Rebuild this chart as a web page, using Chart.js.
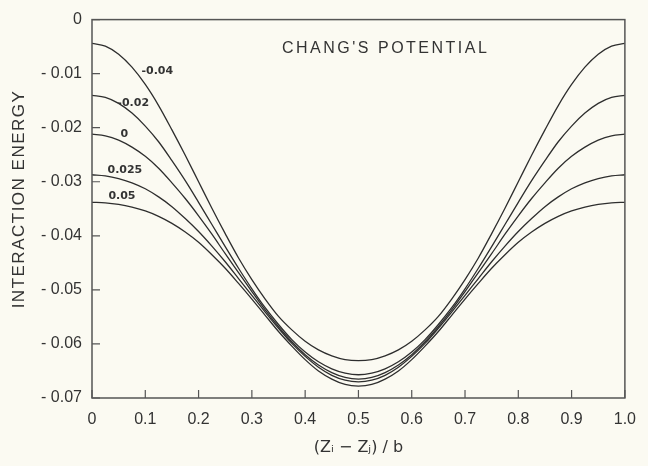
<!DOCTYPE html>
<html>
<head>
<meta charset="utf-8">
<script src="https://cdn.jsdelivr.net/npm/chart.js@4/dist/chart.umd.min.js"></script>
<style>
html,body{margin:0;padding:0;background:#fbfaf2;}
canvas{display:block;}
</style>
</head>
<body>
<canvas id="c" width="648" height="466"></canvas>
<script>
// x positions (Zi - Zj)/b
const xs = [0,0.025,0.05,0.075,0.1,0.125,0.15,0.175,0.2,0.225,0.25,0.275,0.3,0.325,0.35,0.375,0.4,0.425,0.45,0.475,0.5,
            0.525,0.55,0.575,0.6,0.625,0.65,0.675,0.7,0.725,0.75,0.775,0.8,0.825,0.85,0.875,0.9,0.925,0.95,0.975,1.0];
// curve parameters (labels)
const curveLabels = ['-0.04','-0.02','0','0.025','0.05'];
// interaction energy
const e_m004 = [-0.0044,-0.0049,-0.0064,-0.0088,-0.0120,-0.0159,-0.0204,-0.0251,-0.0300,-0.0349,-0.0396,-0.0441,-0.0481,-0.0517,-0.0549,-0.0574,-0.0595,-0.0611,-0.0622,-0.0629,-0.0631,
                -0.0629,-0.0622,-0.0611,-0.0595,-0.0574,-0.0549,-0.0517,-0.0481,-0.0441,-0.0396,-0.0349,-0.0300,-0.0251,-0.0204,-0.0159,-0.0120,-0.0088,-0.0064,-0.0049,-0.0044];
const e_m002 = [-0.0140,-0.0144,-0.0155,-0.0173,-0.0197,-0.0226,-0.0261,-0.0298,-0.0338,-0.0379,-0.0420,-0.0460,-0.0498,-0.0533,-0.0564,-0.0592,-0.0615,-0.0633,-0.0646,-0.0654,-0.0657,
                -0.0654,-0.0646,-0.0633,-0.0615,-0.0592,-0.0564,-0.0533,-0.0498,-0.0460,-0.0420,-0.0379,-0.0338,-0.0298,-0.0261,-0.0226,-0.0197,-0.0173,-0.0155,-0.0144,-0.0140];
const e_0    = [-0.0212,-0.0215,-0.0223,-0.0236,-0.0253,-0.0275,-0.0302,-0.0331,-0.0363,-0.0397,-0.0433,-0.0468,-0.0503,-0.0537,-0.0568,-0.0596,-0.0620,-0.0639,-0.0653,-0.0662,-0.0665,
                -0.0662,-0.0653,-0.0639,-0.0620,-0.0596,-0.0568,-0.0537,-0.0503,-0.0468,-0.0433,-0.0397,-0.0363,-0.0331,-0.0302,-0.0275,-0.0253,-0.0236,-0.0223,-0.0215,-0.0212];
const e_p025 = [-0.0287,-0.0289,-0.0294,-0.0302,-0.0313,-0.0328,-0.0346,-0.0368,-0.0392,-0.0419,-0.0448,-0.0479,-0.0510,-0.0541,-0.0571,-0.0599,-0.0623,-0.0643,-0.0658,-0.0667,-0.0670,
                -0.0667,-0.0658,-0.0643,-0.0623,-0.0599,-0.0571,-0.0541,-0.0510,-0.0479,-0.0448,-0.0419,-0.0392,-0.0368,-0.0346,-0.0328,-0.0313,-0.0302,-0.0294,-0.0289,-0.0287];
const e_p05  = [-0.0338,-0.0339,-0.0342,-0.0347,-0.0354,-0.0364,-0.0377,-0.0393,-0.0412,-0.0435,-0.0460,-0.0488,-0.0517,-0.0547,-0.0577,-0.0604,-0.0629,-0.0650,-0.0665,-0.0675,-0.0678,
                -0.0675,-0.0665,-0.0650,-0.0629,-0.0604,-0.0577,-0.0547,-0.0517,-0.0488,-0.0460,-0.0435,-0.0412,-0.0393,-0.0377,-0.0364,-0.0354,-0.0347,-0.0342,-0.0339,-0.0338];
// tick values
const xTicks = [0,0.1,0.2,0.3,0.4,0.5,0.6,0.7,0.8,0.9,1.0];
const yTicks = [0,-0.01,-0.02,-0.03,-0.04,-0.05,-0.06,-0.07];
// curve label anchor points (data coordinates)
const labelX = [0.1225,0.0773,0.0608,0.0617,0.0562];
const labelY = [-0.0096,-0.0155,-0.0212,-0.0278,-0.0326];

const series = [e_m004,e_m002,e_0,e_p025,e_p05];
const ink = '#2e2e2e';

const datasets = series.map((s,i)=>({
  label: curveLabels[i],
  data: xs.map((x,j)=>({x:x,y:s[j]})),
  borderColor: ink,
  borderWidth: 1.3,
  pointRadius: 0,
  fill: false,
  cubicInterpolationMode: 'monotone'
}));

const decor = {
  id:'decor',
  beforeDraw(chart){
    const c=chart.ctx;
    c.save();
    c.fillStyle='#fbfaf2';
    c.fillRect(0,0,chart.width,chart.height);
    c.restore();
  },
  afterDraw(chart){
    const c=chart.ctx, a=chart.chartArea, sx=chart.scales.x, sy=chart.scales.y;
    c.save();
    c.strokeStyle='#555';
    c.lineWidth=1.5;
    c.strokeRect(a.left,a.top,a.right-a.left,a.bottom-a.top);
    c.lineWidth=1.2;
    c.beginPath();
    yTicks.forEach(v=>{const p=sy.getPixelForValue(v); c.moveTo(a.left,p); c.lineTo(a.left+8,p);});
    xTicks.forEach(v=>{const p=sx.getPixelForValue(v); c.moveTo(p,a.bottom); c.lineTo(p,a.bottom-8);});
    c.stroke();
    // title
    c.fillStyle='#333';
    c.font='16px "Liberation Sans", Arial, sans-serif';
    c.letterSpacing='2.5px';
    c.textAlign='left';
    c.textBaseline='middle';
    c.fillText("CHANG'S POTENTIAL", 282, 49);
    // y axis title
    c.save();
    c.translate(19,199);
    c.rotate(-Math.PI/2);
    c.font='17px "Liberation Sans", Arial, sans-serif';
    c.letterSpacing='1.5px';
    c.textAlign='center';
    c.fillText('INTERACTION ENERGY',0,0);
    c.restore();
    // curve labels
    c.letterSpacing='0px';
    c.font='bold 11px "DejaVu Sans", sans-serif';
    c.textAlign='center';
    curveLabels.forEach((t,i)=>{
      c.fillText(t, sx.getPixelForValue(labelX[i]), sy.getPixelForValue(labelY[i]));
    });
    c.restore();
  }
};

new Chart(document.getElementById('c'),{
  type:'line',
  data:{datasets},
  options:{
    responsive:false,
    devicePixelRatio:1,
    animation:false,
    plugins:{legend:{display:false},tooltip:{enabled:false}},
    layout:{padding:{left:0,right:13,top:18,bottom:0}},
    scales:{
      x:{
        type:'linear',min:0,max:1,
        afterFit(s){s.height=68;},
        afterBuildTicks(s){s.ticks=xTicks.map(v=>({value:v}));},
        grid:{display:false,drawTicks:false},
        border:{display:false},
        ticks:{padding:12,color:'#333',font:{family:'"Liberation Sans", Arial, sans-serif',size:16},
          callback:(v)=> v===0?'0':v.toFixed(1)},
        title:{display:true,text:'(Zᵢ − Zⱼ) / b',color:'#333',padding:9,
          font:{family:'"DejaVu Sans", sans-serif',size:16}}
      },
      y:{
        type:'linear',min:-0.07,max:0,
        afterFit(s){s.width=92;},
        afterBuildTicks(s){s.ticks=yTicks.map(v=>({value:v}));},
        grid:{display:false,drawTicks:false},
        border:{display:false},
        ticks:{padding:10,color:'#333',font:{family:'"Liberation Sans", Arial, sans-serif',size:16},
          callback:(v)=> Math.abs(v)<1e-9?'0':'- '+Math.abs(v).toFixed(2)}
      }
    }
  },
  plugins:[decor]
});
</script>
</body>
</html>
